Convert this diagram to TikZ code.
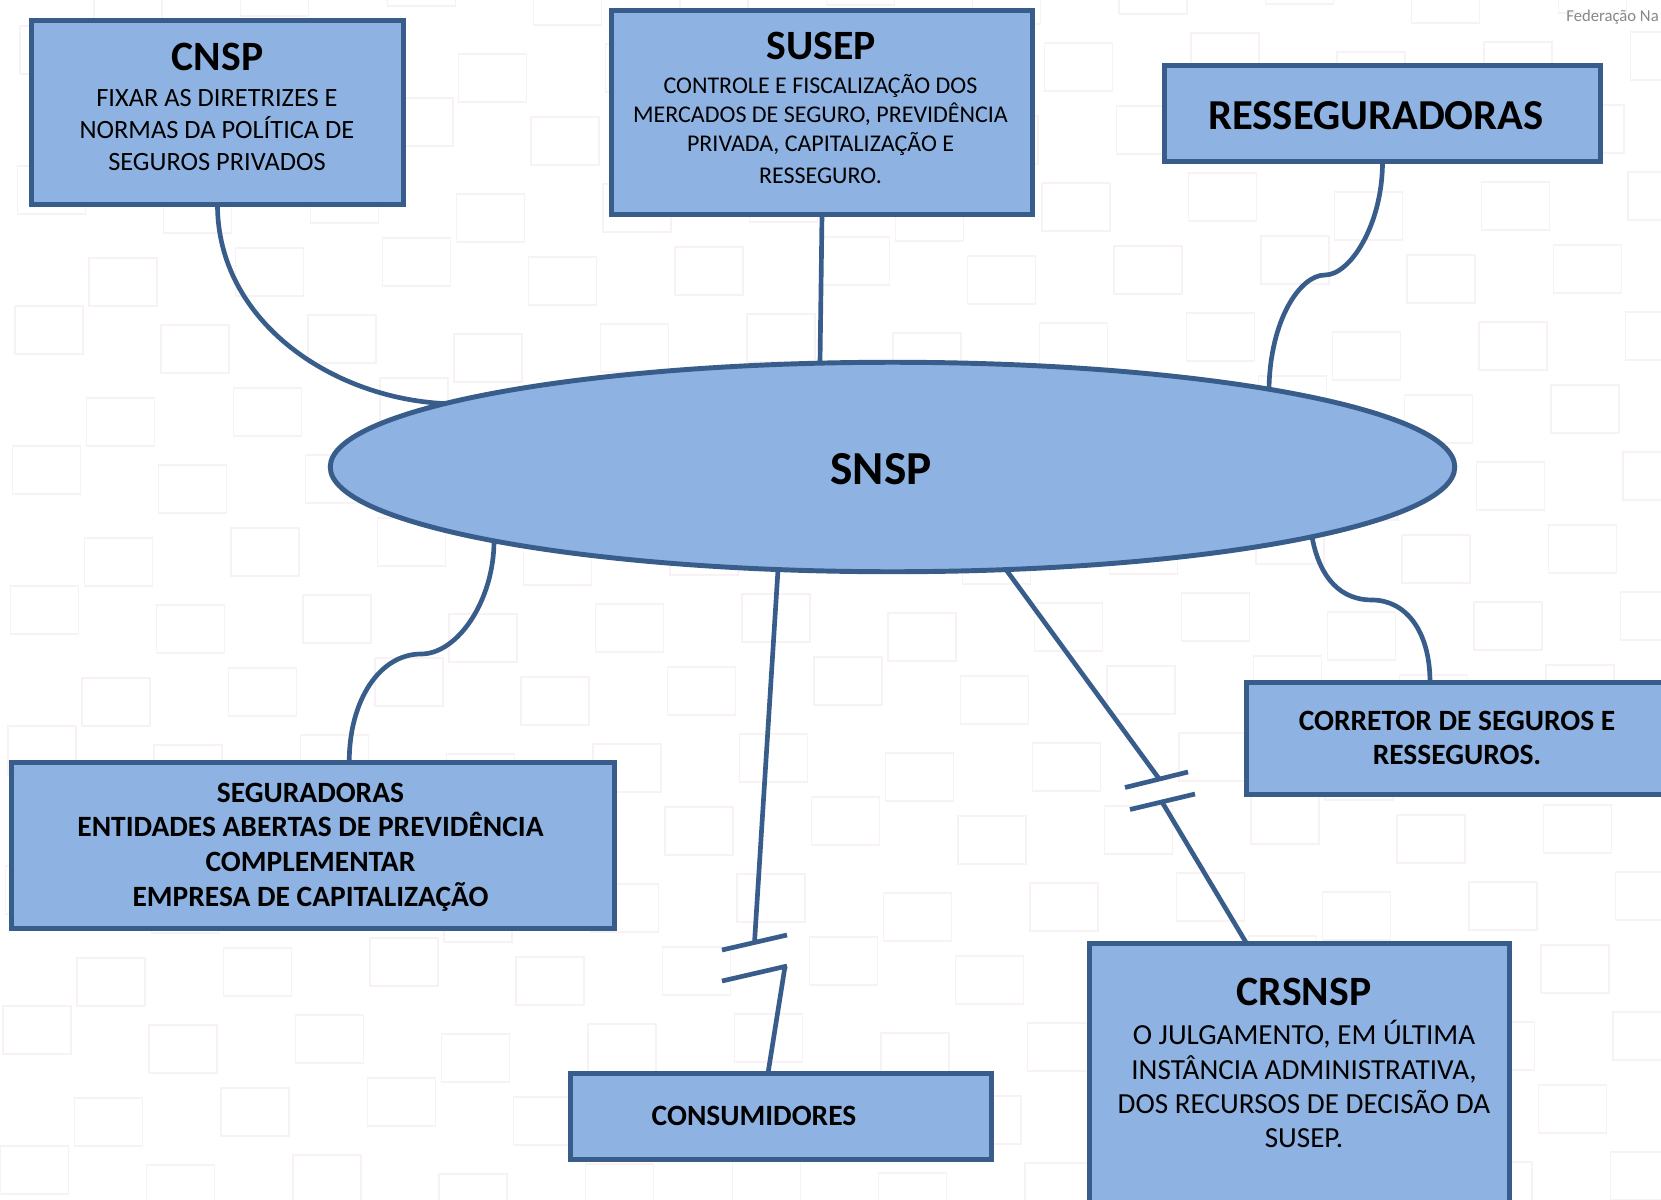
\documentclass[tikz,border=0pt]{standalone}
\usepackage{fontspec}
\setmainfont{Carlito}
\usetikzlibrary{calc,shapes.geometric}
\definecolor{boxfill}{RGB}{142,179,226}
\definecolor{boxline}{RGB}{56,93,138}
\definecolor{sqline}{RGB}{249,242,244}
\definecolor{wmgray}{RGB}{135,135,135}
\begin{document}
\begin{tikzpicture}[x=0.75pt,y=-0.75pt,
  boxnode/.style={rectangle,draw=boxline,fill=boxfill,line width=3.7pt,inner sep=0pt,outer sep=0pt},
  conn/.style={draw=boxline,line width=3.5pt},
  bgsq/.style={draw=sqline,line width=1.1pt},
  lbl/.style={anchor=base,inner sep=0pt,outer sep=0pt,text=black},
  ttl/.style={lbl,font={\fontsize{31.3pt}{36pt}\selectfont\bfseries}},
  rttl/.style={lbl,font={\fontsize{32pt}{36pt}\selectfont\bfseries}},
  bigttl/.style={lbl,font={\fontsize{35.5pt}{42pt}\selectfont\bfseries}},
  bodya/.style={lbl,font={\fontsize{19.8pt}{24pt}\selectfont}},
  bodyb/.style={lbl,font={\fontsize{18pt}{22pt}\selectfont}},
  bodyc/.style={lbl,font={\fontsize{21.85pt}{26pt}\selectfont}},
  boldc/.style={lbl,font={\fontsize{22.1pt}{26pt}\selectfont\bfseries}}
]
% background
\fill[white] (0,0) rectangle (1661,1200);
\useasboundingbox (0,0) rectangle (1661,1200);
\foreach \i in {0,...,23}{
  \foreach \k in {0,...,9}{
    \pgfmathsetmacro\by{40+68*mod(\i,2)+mod(\i*53,29)-14-140+140*\k}
    \pgfmathsetmacro\bx{3+73.2*\i+(1000-\by)*0.0175}
    \draw[bgsq] (\bx,\by) rectangle ++(68,48);
  }
}
\node[anchor=base east,inner sep=0pt,text=wmgray,font={\fontsize{12.5pt}{15pt}\selectfont}] (wm) at (1659,21) {Federação Na};

% nodes
\node[boxnode,minimum width=279.4pt,minimum height=138.4pt] (cnsp) at (217.5,112.5) {};
\node[boxnode,minimum width=316.1pt,minimum height=153.4pt] (susep) at (822,112.5) {};
\node[boxnode,minimum width=327.4pt,minimum height=72.4pt] (resseg) at (1382.5,113.5) {};
\node[ellipse,draw=boxline,fill=boxfill,line width=3.7pt,inner sep=0pt,outer sep=0pt,minimum width=843.4pt,minimum height=157.1pt] (snsp) at (892.5,467) {};
\node[boxnode,minimum width=452.25pt,minimum height=124.9pt] (segur) at (313.25,845.5) {};
\node[boxnode,minimum width=316.1pt,minimum height=64.9pt] (consum) at (781,1116.5) {};
\node[boxnode,minimum width=316.1pt,minimum height=84.4pt] (corr) at (1457,738.5) {};
\node[boxnode,minimum width=315.4pt,minimum height=202.1pt] (crsnsp) at (1299.5,1078) {};

% texts
\node[ttl] (cnspT) at (217.5,70) {CNSP};
\node[bodya] (cnsp1) at (217,106) {FIXAR AS DIRETRIZES E};
\node[bodya] (cnsp2) at (217,138) {NORMAS DA POLÍTICA DE};
\node[bodya] (cnsp3) at (217,170) {SEGUROS PRIVADOS};

\node[ttl] (susepT) at (821,59) {SUSEP};
\node[bodyb] (susep1) at (820.5,93) {CONTROLE E FISCALIZAÇÃO DOS};
\node[bodyb] (susep2) at (820.5,122) {MERCADOS DE SEGURO, PREVIDÊNCIA};
\node[bodyb] (susep3) at (820.5,151) {PRIVADA, CAPITALIZAÇÃO E};
\node[bodyb] (susep4) at (820.5,183) {RESSEGURO.};

\node[rttl] (ressegT) at (1376,129) {RESSEGURADORAS};

\node[bigttl] (snspT) at (881,484) {SNSP};

\node[boldc] (segur1) at (310.5,802) {SEGURADORAS};
\node[boldc] (segur2) at (310.5,836.5) {ENTIDADES ABERTAS DE PREVIDÊNCIA};
\node[boldc] (segur3) at (310.5,871.5) {COMPLEMENTAR};
\node[boldc] (segur4) at (310.5,906) {EMPRESA DE CAPITALIZAÇÃO};

\node[boldc] (consumT) at (754,1125) {CONSUMIDORES};

\node[boldc] (corr1) at (1457,730) {CORRETOR DE SEGUROS E};
\node[boldc] (corr2) at (1457,764.5) {RESSEGUROS.};

\node[ttl] (crsnspT) at (1304,1005) {CRSNSP};
\node[bodyc] (crsnsp1) at (1304,1044) {O JULGAMENTO, EM ÚLTIMA};
\node[bodyc] (crsnsp2) at (1304,1079) {INSTÂNCIA ADMINISTRATIVA,};
\node[bodyc] (crsnsp3) at (1304,1113) {DOS RECURSOS DE DECISÃO DA};
\node[bodyc] (crsnsp4) at (1304,1147) {SUSEP.};

% connectors
\draw[conn] (cnsp.south) .. controls (217.5,320) and (330,398) .. ($(snsp.center)+(-447.5,-63.4)$);
\draw[conn] (susep.south) -- ($(snsp.center)+(-72.5,-103.9)$);
\draw[conn] (resseg.south) .. controls (1382.5,225) and (1350,275) .. (1325,275)
                           .. controls (1300,275) and (1270,320) .. ($(snsp.center)+(376.5,-77.8)$);
\draw[conn] ($(snsp.center)+(-398.5,73.9)$) .. controls (494,600) and (458,654) .. (421,654)
                         .. controls (380,654) and (349,700) .. ($(segur.north)+(36,0)$);
\draw[conn] ($(snsp.center)+(419.5,69.8)$) .. controls (1320,580) and (1342,600) .. (1372,600)
                          .. controls (1405,600) and (1430,630) .. ($(corr.north)+(-27,0)$);
% broken link to CONSUMIDORES
\coordinate (cbA) at (754.5,942.5);
\coordinate (cbB) at (785,966.5);
\draw[conn] ($(snsp.center)+(-114.5,102.6)$) -- (cbA);
\draw[conn] (722,950) -- (787,935);
\draw[conn] (722,981) -- (787,966);
\draw[conn] (cbB) -- ($(consum.north)+(-13,0)$);
% broken link to CRSNSP
\coordinate (rbA) at (1160,780);
\coordinate (rbB) at (1162,802);
\draw[conn] ($(snsp.center)+(113.5,102.6)$) -- (rbA);
\draw[conn] (1125,787.5) -- (1188,772);
\draw[conn] (1130,809.5) -- (1195,794);
\draw[conn] (rbB) -- ($(crsnsp.north)+(-53,0)$);
\end{tikzpicture}
\end{document}
